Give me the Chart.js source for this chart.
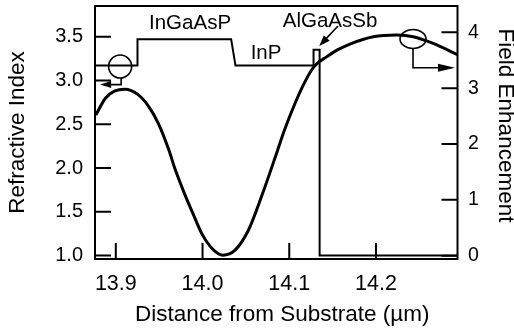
<!DOCTYPE html>
<html><head><meta charset="utf-8">
<script src="https://cdn.jsdelivr.net/npm/chart.js@4/dist/chart.umd.min.js"></script>
<style>html,body{margin:0;padding:0;background:#fff}#c{display:block}</style>
</head><body>
<canvas id="c" width="514" height="330"></canvas>
<script>
// Refractive index profile (left axis)
const layerX = [13.876, 13.925, 13.925, 14.033, 14.038, 14.128, 14.128, 14.135, 14.135, 14.294];
const layerN = [3.17, 3.17, 3.47, 3.47, 3.17, 3.17, 3.35, 3.35, 1.0, 1.0];
// Field enhancement (right axis)
const fieldX = [13.877, 13.888, 13.899, 13.910, 13.926, 13.938, 13.949, 13.961, 13.968, 13.980, 13.988, 13.999, 14.011, 14.0235, 14.0375, 14.053, 14.068, 14.084, 14.0945, 14.1067, 14.1163, 14.126, 14.132, 14.143, 14.155, 14.170, 14.197, 14.224, 14.243, 14.266, 14.294];
const fieldE = [2.52, 2.82, 2.95, 2.98, 2.88, 2.67, 2.37, 1.90, 1.565, 1.08, 0.79, 0.40, 0.13, 0.01, 0.10, 0.46, 1.06, 1.77, 2.25, 2.73, 3.06, 3.33, 3.44, 3.56, 3.68, 3.79, 3.92, 3.95, 3.92, 3.80, 3.60];
// Ticks
const xTicks = [13.9, 14.0, 14.1, 14.2];
const nTicks = [1.0, 1.5, 2.0, 2.5, 3.0, 3.5];
const eTicks = [0, 1, 2, 3, 4];
// Layer labels (data coords on left axis)
const labelText = ['InGaAsP', 'InP', 'AlGaAsSb'];
const labelX = [13.9856, 14.0732, 14.147];
const labelN = [3.654, 3.311, 3.672];

const FONT = '"Liberation Sans", Arial, sans-serif';

const pts = (xs, ys) => xs.map((x, i) => ({x, y: ys[i]}));

function arrowHead(ctx, x1, y1, x2, y2, len, hw) {
  const a = Math.atan2(y2 - y1, x2 - x1);
  ctx.beginPath();
  ctx.moveTo(x2, y2);
  ctx.lineTo(x2 - len * Math.cos(a) + hw * Math.sin(a), y2 - len * Math.sin(a) - hw * Math.cos(a));
  ctx.lineTo(x2 - len * Math.cos(a) - hw * Math.sin(a), y2 - len * Math.sin(a) + hw * Math.cos(a));
  ctx.closePath();
  ctx.fill();
}

const decor = {
  id: 'decor',
  afterDatasetsDraw(chart) {
    const {ctx, chartArea: a, scales} = chart;
    const X = v => scales.x.getPixelForValue(v);
    const N = v => scales.y.getPixelForValue(v);
    const E = v => scales.y1.getPixelForValue(v);
    ctx.save();
    ctx.strokeStyle = '#000'; ctx.fillStyle = '#000';
    ctx.lineWidth = 2;
    ctx.strokeRect(a.left, a.top, a.right - a.left, a.bottom - a.top);
    const L = 16;
    ctx.beginPath();
    scales.x.ticks.forEach(t => { const p = X(t.value); ctx.moveTo(p, a.bottom); ctx.lineTo(p, a.bottom - L); });
    scales.y.ticks.forEach(t => { const p = N(t.value); ctx.moveTo(a.left, p); ctx.lineTo(a.left + L, p); });
    scales.y1.ticks.forEach(t => { const p = E(t.value); ctx.moveTo(a.right, p); ctx.lineTo(a.right - L, p); });
    ctx.stroke();

    // left marker: circle on index curve, arrow to left axis
    ctx.lineWidth = 1.6;
    const cx = X(13.905), cy = N(3.16);
    ctx.beginPath(); ctx.arc(cx, cy, 11.5, 0, Math.PI * 2); ctx.stroke();
    const ay = N(2.953), tipX = X(13.8819);
    ctx.beginPath(); ctx.moveTo(cx + 1, cy + 11.5); ctx.lineTo(cx + 1, ay); ctx.lineTo(tipX + 9, ay); ctx.stroke();
    arrowHead(ctx, cx, ay, tipX, ay, 11, 3.5);

    // right marker: ellipse on field curve, arrow to right axis
    const ex = X(14.2427), ey = E(3.88);
    ctx.beginPath(); ctx.ellipse(ex, ey, 13, 9.5, 0, 0, Math.PI * 2); ctx.stroke();
    const ry = E(3.366), rtip = X(14.2911);
    ctx.beginPath(); ctx.moveTo(ex, ey + 9.5); ctx.lineTo(ex, ry); ctx.lineTo(rtip - 12, ry); ctx.stroke();
    arrowHead(ctx, ex, ry, rtip, ry, 17, 4);

    // AlGaAsSb arrow
    const sx = X(14.1562), sy = N(3.623), tx = X(14.1346), ty = N(3.394);
    const ang = Math.atan2(ty - sy, tx - sx);
    ctx.beginPath(); ctx.moveTo(sx, sy); ctx.lineTo(tx - 8 * Math.cos(ang), ty - 8 * Math.sin(ang)); ctx.stroke();
    arrowHead(ctx, sx, sy, tx, ty, 11, 4);

    // layer labels
    ctx.font = '20.5px ' + FONT;
    ctx.textAlign = 'center'; ctx.textBaseline = 'middle';
    labelText.forEach((t, i) => ctx.fillText(t, X(labelX[i]), N(labelN[i])));

    // bottom and right axis titles
    ctx.font = '22.5px ' + FONT;
    ctx.fillText('Distance from Substrate (\u00b5m)', (a.left + a.right) / 2 + 6, 315);
    ctx.translate(505.5, (a.top + a.bottom) / 2 - 7);
    ctx.rotate(Math.PI / 2);
    ctx.fillText('Field Enhancement', 0, 0);
    ctx.restore();
  }
};

const setTicks = arr => scale => { scale.ticks = arr.map(v => ({value: v})); };
const fitV = w => s => { s.width = w; s.paddingTop = 0; s.paddingBottom = 0; };
const fitH = h => s => { s.height = h; s.paddingLeft = 0; s.paddingRight = 0; };

new Chart(document.getElementById('c'), {
  type: 'line',
  data: {
    datasets: [
      {label: 'Refractive Index', data: pts(layerX, layerN), yAxisID: 'y', borderColor: '#000', borderWidth: 2, pointRadius: 0, tension: 0, fill: false},
      {label: 'Field Enhancement', data: pts(fieldX, fieldE), yAxisID: 'y1', borderColor: '#000', borderWidth: 3, pointRadius: 0, cubicInterpolationMode: 'monotone', fill: false}
    ]
  },
  options: {
    responsive: false, animation: false, devicePixelRatio: 1,
    layout: {padding: {top: 6, left: 0, right: 0, bottom: 0}},
    plugins: {legend: {display: false}, tooltip: {enabled: false}},
    scales: {
      x: {
        type: 'linear', min: 13.876, max: 14.294,
        afterBuildTicks: setTicks(xTicks),
        afterFit: fitH(71),
        grid: {display: false, drawTicks: false}, border: {display: false},
        ticks: {padding: 12, color: '#000', font: {family: FONT, size: 21.5}, callback: v => Number(v).toFixed(1)}
      },
      y: {
        position: 'left', min: 0.96, max: 3.851,
        afterBuildTicks: setTicks(nTicks),
        afterFit: fitV(95),
        grid: {display: false, drawTicks: false}, border: {display: false},
        ticks: {padding: 12, color: '#000', font: {family: FONT, size: 20}, callback: v => Number(v).toFixed(1)},
        title: {display: true, text: 'Refractive Index', color: '#000', font: {family: FONT, size: 22.5}, padding: {top: 4, bottom: 0}}
      },
      y1: {
        position: 'right', min: -0.059, max: 4.471,
        afterBuildTicks: setTicks(eTicks),
        afterFit: fitV(56.5),
        grid: {display: false, drawTicks: false}, border: {display: false},
        ticks: {padding: 10.5, color: '#000', font: {family: FONT, size: 19.5}, callback: v => String(v)}
      }
    }
  },
  plugins: [decor]
});
</script>
</body></html>
